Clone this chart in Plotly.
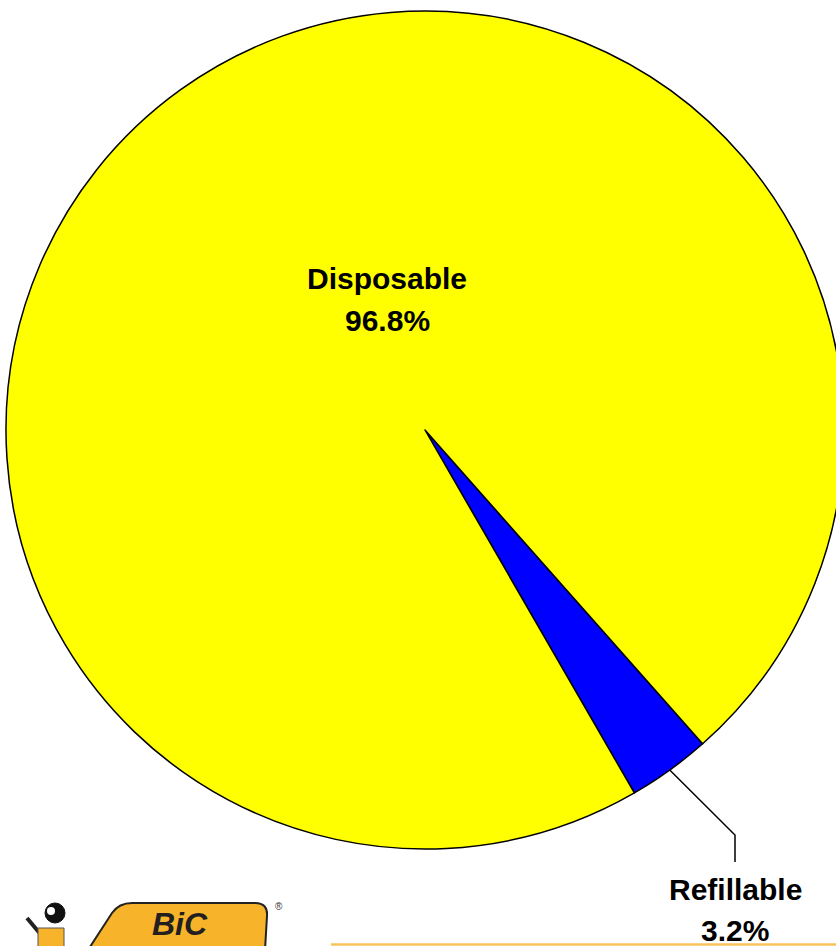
import math
import plotly.graph_objects as go

# ---- data ----
labels = ["Refillable", "Disposable"]
values = [3.2, 96.8]
colors = ["#0000FF", "#FFFF00"]

W, H = 850, 946
ROT = 138.5          # clock angle (deg) where first slice starts
CX, CY, R = 425, 430, 419


def px(x):
    return x / W


def py(y):
    return 1 - y / H


fig = go.Figure()
fig.add_trace(go.Pie(
    labels=labels,
    values=values,
    sort=False,
    direction="clockwise",
    rotation=ROT,
    marker=dict(colors=colors, line=dict(color="black", width=1.5)),
    textinfo="none",
    hoverinfo="label+percent",
    domain=dict(x=[px(CX - R), px(CX + R)], y=[py(CY + R), py(CY - R)]),
))

font = dict(family="Liberation Sans, Arial, sans-serif", size=30, color="black")
ann = []
# Disposable label (inside)
ann.append(dict(x=px(387), y=py(278), text=f"<b>{labels[1]}</b>"))
ann.append(dict(x=px(387), y=py(320), text=f"<b>{values[1]:.1f}%</b>"))
# Refillable label (outside)
ann.append(dict(x=px(735), y=py(889), text=f"<b>{labels[0]}</b>"))
ann.append(dict(x=px(735), y=py(930), text=f"<b>{values[0]:.1f}%</b>"))
for a in ann:
    a.update(xref="paper", yref="paper", showarrow=False, font=font,
             xanchor="center", yanchor="middle")

# leader line from the midpoint of the Refillable slice
mid = math.radians(ROT + 360 * values[0] / sum(values) / 2)
sx = CX + R * math.sin(mid)
sy = CY - R * math.cos(mid)
shapes = [dict(type="path", xref="paper", yref="paper",
               path=f"M {px(sx)},{py(sy)} L {px(735)},{py(835)} L {px(735)},{py(862)}",
               line=dict(color="black", width=1.5))]

# orange footer line
shapes.append(dict(type="line", xref="paper", yref="paper",
                   x0=px(331), x1=1, y0=py(944.5), y1=py(944.5),
                   line=dict(color="#F8C35A", width=2.5)))

# BIC logo approximation
shapes.append(dict(type="path", xref="paper", yref="paper",
                   path=(f"M {px(88)},{py(950)} L {px(112)},{py(913)} "
                         f"Q {px(119)},{py(903)} {px(132)},{py(903)} "
                         f"L {px(255)},{py(903)} Q {px(268)},{py(903)} {px(267)},{py(916)} "
                         f"L {px(265)},{py(950)} Z"),
                   fillcolor="#F7B329", line=dict(color="#222222", width=2)))
shapes.append(dict(type="line", xref="paper", yref="paper",
                   x0=px(27), y0=py(918), x1=px(42), y1=py(936),
                   line=dict(color="#222222", width=4)))
shapes.append(dict(type="rect", xref="paper", yref="paper",
                   x0=px(38), y0=py(950), x1=px(64), y1=py(928),
                   fillcolor="#F7B329", line=dict(color="#555555", width=1)))
shapes.append(dict(type="circle", xref="paper", yref="paper",
                   x0=px(45), y0=py(923), x1=px(65), y1=py(903),
                   fillcolor="#111111", line=dict(color="#111111", width=1)))
shapes.append(dict(type="circle", xref="paper", yref="paper",
                   x0=px(47), y0=py(915), x1=px(55), y1=py(907),
                   fillcolor="white", line=dict(color="white", width=0)))
ann.append(dict(x=px(180), y=py(924), xref="paper", yref="paper", showarrow=False,
                text="<b><i>BiC</i></b>", xanchor="center", yanchor="middle",
                borderpad=0,
                font=dict(family="Liberation Sans, Arial", size=32, color="#231F20")))
ann.append(dict(x=px(279), y=py(906), xref="paper", yref="paper", showarrow=False,
                text="®", xanchor="center", yanchor="middle",
                font=dict(family="Liberation Sans, Arial", size=10, color="#333333")))

fig.update_layout(
    width=W, height=H, autosize=False,
    margin=dict(l=0, r=0, t=0, b=0),
    paper_bgcolor="white", plot_bgcolor="white",
    showlegend=False,
    annotations=ann, shapes=shapes,
)

fig.write_html("out.html")
